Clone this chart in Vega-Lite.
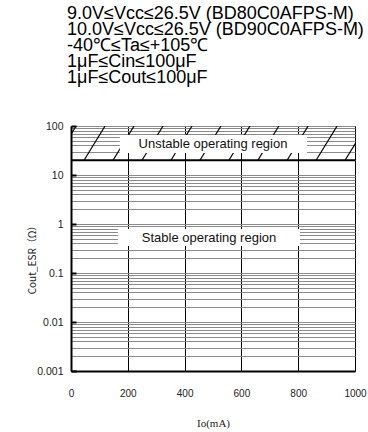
{
  "$schema": "https://vega.github.io/schema/vega-lite/v6.json",
  "autosize": "none",
  "width": 284,
  "height": 245,
  "padding": {"left": 71, "top": 126, "right": 13, "bottom": 61},
  "background": "white",
  "config": {
    "view": {"stroke": "black", "strokeWidth": 1},
    "axis": {"labelFont": "Liberation Sans", "labelColor": "#222"}
  },
  "title": {
    "text": ["9.0V≤Vcc≤26.5V (BD80C0AFPS-M)", "10.0V≤Vcc≤26.5V (BD90C0AFPS-M)", "-40℃≤Ta≤+105℃", "1μF≤Cin≤100μF", "1μF≤Cout≤100μF"],
    "anchor": "start",
    "frame": "group",
    "font": "Liberation Sans",
    "fontSize": 18,
    "fontWeight": "normal",
    "lineHeight": 16,
    "color": "black",
    "dx": -4,
    "offset": 34
  },
  "layer": [
    {
      "data": {"values": [
        {"x": -56, "x2": 18, "y": 20, "y2": 100},
        {"x": 46, "x2": 120, "y": 20, "y2": 100},
        {"x": 148, "x2": 222, "y": 20, "y2": 100},
        {"x": 250, "x2": 324, "y": 20, "y2": 100},
        {"x": 352, "x2": 426, "y": 20, "y2": 100},
        {"x": 454, "x2": 528, "y": 20, "y2": 100},
        {"x": 556, "x2": 630, "y": 20, "y2": 100},
        {"x": 658, "x2": 732, "y": 20, "y2": 100},
        {"x": 761, "x2": 835, "y": 20, "y2": 100},
        {"x": 863, "x2": 937, "y": 20, "y2": 100},
        {"x": 965, "x2": 1039, "y": 20, "y2": 100}
      ]},
      "mark": {"type": "rule", "color": "black", "strokeWidth": 1.2, "clip": true},
      "encoding": {
        "x": {
          "field": "x", "type": "quantitative",
          "scale": {"domain": [0, 1000], "nice": false, "zero": false},
          "axis": {
            "values": [0, 200, 400, 600, 800, 1000],
            "format": "d",
            "grid": true, "gridColor": "black", "gridWidth": 1,
            "ticks": false,
            "domainColor": "black", "domainWidth": 2,
            "labelFontSize": 10, "labelPadding": 17,
            "labelFlush": false,
            "title": "Io(mA)",
            "titleFont": "Liberation Serif", "titleFontSize": 11, "titleFontWeight": "normal",
            "titleColor": "#222", "titlePadding": 19
          }
        },
        "x2": {"field": "x2"},
        "y": {
          "field": "y", "type": "quantitative",
          "scale": {"type": "log", "domain": [0.001, 100], "nice": false},
          "axis": {
            "values": [0.001, 0.002, 0.003, 0.004, 0.005, 0.006, 0.007, 0.008, 0.009,
                       0.01, 0.02, 0.03, 0.04, 0.05, 0.06, 0.07, 0.08, 0.09,
                       0.1, 0.2, 0.3, 0.4, 0.5, 0.6, 0.7, 0.8, 0.9,
                       1, 2, 3, 4, 5, 6, 7, 8, 9,
                       10, 20, 30, 40, 50, 60, 70, 80, 90, 100],
            "grid": true, "gridColor": "#8a8a8a", "gridWidth": 1,
            "labelExpr": "abs(log(datum.value)/LN10 - round(log(datum.value)/LN10)) < 0.001 ? format(datum.value, '~g') : ''",
            "labelOverlap": false,
            "labelFontSize": 10.5,
            "labelPadding": 13,
            "tickSize": -5, "tickWidth": 2, "tickColor": "black",
            "tickOpacity": {"condition": {"test": "abs(log(datum.value)/LN10 - round(log(datum.value)/LN10)) < 0.001", "value": 1}, "value": 0},
            "domainColor": "black", "domainWidth": 2,
            "title": "Cout_ESR（Ω）",
            "titleFont": "Noto Sans CJK JP", "titleFontSize": 10, "titleFontWeight": "normal",
            "titleColor": "#222",
            "titleX": -39, "titleY": 131, "titleAngle": -90, "titleBaseline": "middle", "titleAlign": "center"
          }
        },
        "y2": {"field": "y2"}
      }
    },
    {
      "data": {"values": [{"y": 20}]},
      "mark": {"type": "rule", "color": "black", "strokeWidth": 2},
      "encoding": {"y": {"field": "y", "type": "quantitative"}}
    },
    {
      "data": {"values": [
        {"x": 172, "x2": 831, "y": 28.1, "y2": 65.5},
        {"x": 165, "x2": 806, "y": 0.356, "y2": 0.79}
      ]},
      "mark": {"type": "rect", "color": "white"},
      "encoding": {
        "x": {"field": "x", "type": "quantitative"},
        "x2": {"field": "x2"},
        "y": {"field": "y", "type": "quantitative"},
        "y2": {"field": "y2"}
      }
    },
    {
      "data": {"values": [
        {"x": 500, "y": 43, "label": "Unstable operating region"},
        {"x": 486, "y": 0.53, "label": "Stable operating region"}
      ]},
      "mark": {"type": "text", "font": "Liberation Sans", "fontSize": 13, "color": "#111", "baseline": "middle", "align": "center"},
      "encoding": {
        "x": {"field": "x", "type": "quantitative"},
        "y": {"field": "y", "type": "quantitative"},
        "text": {"field": "label"}
      }
    }
  ]
}
